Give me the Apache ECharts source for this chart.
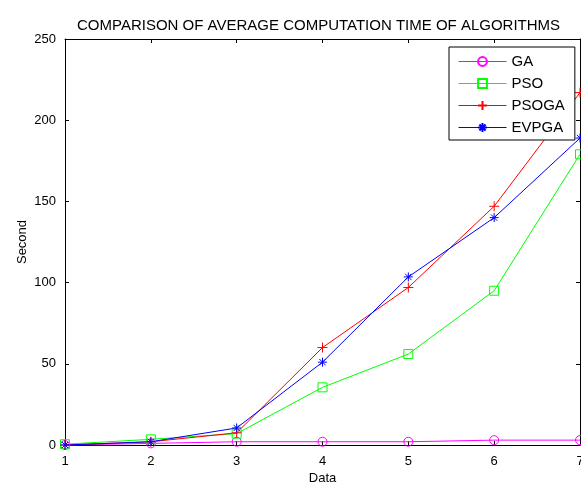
<!DOCTYPE html>
<html>
<head>
<meta charset="utf-8">
<script src="https://cdn.jsdelivr.net/npm/echarts@6/dist/echarts.min.js"></script>
<style>html,body{margin:0;padding:0;background:#fff;}#c{width:581px;height:484px;}</style>
</head>
<body>
<div id="c"></div>
<script>
const dataX = [1, 2, 3, 4, 5, 6, 7];
const gaValues = [0, 1, 2, 2, 2, 3, 3];
const psoValues = [0.5, 3.5, 7, 35.5, 56, 95, 179];
const psogaValues = [0, 2, 7.5, 60, 97, 147, 217];
const evpgaValues = [0, 2, 10.5, 51, 103.5, 140, 189];
const seriesNames = ['GA', 'PSO', 'PSOGA', 'EVPGA'];
const yTicks = [0, 50, 100, 150, 200, 250];

const FONT = '"Liberation Sans", Arial, sans-serif';
const plusPath = 'path://M5,0L5,10M0,5L10,5';
const starPath = 'path://M5,0L5,10M0,5L10,5M1.5,1.5L8.5,8.5M1.5,8.5L8.5,1.5';

function pairs(vals) { return dataX.map((x, i) => [x, vals[i]]); }

function mkSeries(name, vals, color, symbol, size) {
  return {
    name: name, type: 'line', data: pairs(vals),
    symbol: symbol, symbolSize: size, showSymbol: true,
    lineStyle: { color: color, width: 1 },
    itemStyle: { color: 'rgba(255,255,255,0)', borderColor: color, borderWidth: 1 },
    emphasis: { disabled: true },
    animation: false, clip: false
  };
}

const chart = echarts.init(document.getElementById('c'), null, { renderer: 'canvas' });
const axisBase = {
  axisLine: { show: true, onZero: false, lineStyle: { color: '#000', width: 1 } },
  axisTick: { show: true, inside: true, length: 4, lineStyle: { color: '#000' } },
  splitLine: { show: false }
};
chart.setOption({
  backgroundColor: '#fff',
  animation: false,
  title: {
    text: 'COMPARISON OF AVERAGE COMPUTATION TIME OF ALGORITHMS',
    left: 72, top: 13,
    textStyle: { fontFamily: FONT, fontSize: 15, fontWeight: 'normal', color: '#000' }
  },
  legend: {
    orient: 'vertical', left: 449, top: 47,
    backgroundColor: '#fff', borderColor: '#000', borderWidth: 1,
    padding: [7, 10, 5, 9], itemGap: 7, itemWidth: 48, itemHeight: 11,
    lineStyle: { width: 1 },
    textStyle: { fontFamily: FONT, fontSize: 15, lineHeight: 15, color: '#000', padding: [0, 0, 0, 0] },
    data: seriesNames
  },
  grid: { left: 65, right: 1, top: 39, bottom: 39, containLabel: false, outerBoundsMode: 'none' },
  xAxis: [
    Object.assign({}, axisBase, {
      type: 'value', min: 1, max: 7, interval: 1, position: 'bottom',
      name: 'Data', nameLocation: 'middle', nameGap: 27, nameMoveOverlap: false,
      nameTextStyle: { fontFamily: FONT, fontSize: 13, color: '#000' },
      axisLabel: { fontFamily: FONT, fontSize: 13, color: '#000', margin: 10 }
    }),
    Object.assign({}, axisBase, {
      type: 'value', min: 1, max: 7, interval: 1, position: 'top',
      axisLabel: { show: false }
    })
  ],
  yAxis: [
    Object.assign({}, axisBase, {
      type: 'value', min: yTicks[0], max: yTicks[yTicks.length - 1], interval: 50, position: 'left',
      name: 'Second', nameLocation: 'middle', nameGap: 36, nameMoveOverlap: false,
      nameTextStyle: { fontFamily: FONT, fontSize: 13, color: '#000' },
      axisLabel: { fontFamily: FONT, fontSize: 13, color: '#000', margin: 9 }
    }),
    Object.assign({}, axisBase, {
      type: 'value', min: yTicks[0], max: yTicks[yTicks.length - 1], interval: 50, position: 'right',
      axisLabel: { show: false }
    })
  ],
  series: [
    mkSeries('GA', gaValues, '#ff00ff', 'circle', 9),
    mkSeries('PSO', psoValues, '#00ff00', 'rect', 9),
    mkSeries('PSOGA', psogaValues, '#ff0000', plusPath, 10),
    mkSeries('EVPGA', evpgaValues, '#0000ff', starPath, 9)
  ]
});
</script>
</body>
</html>
